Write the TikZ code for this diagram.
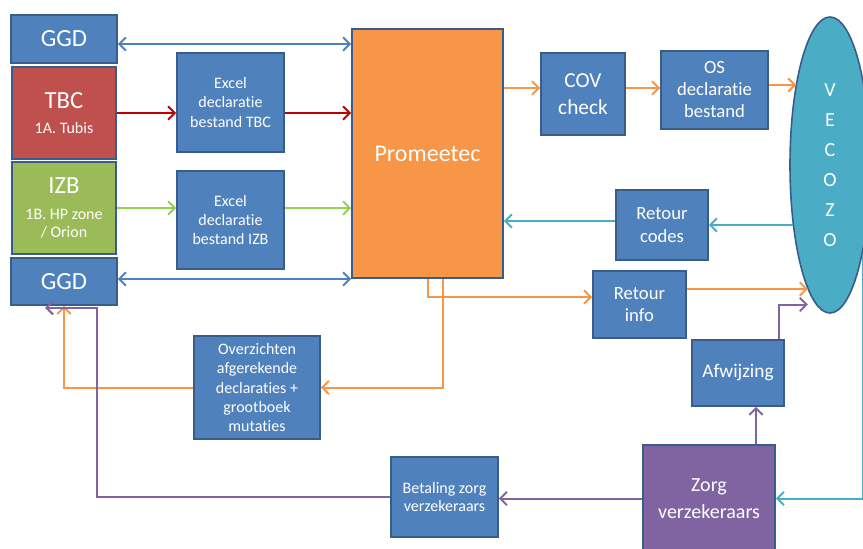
\documentclass[tikz,border=0pt]{standalone}
\usepackage{fontspec}
\setmainfont{Carlito}[Ligatures=NoCommon]
\usetikzlibrary{arrows.meta,shapes.geometric}
\definecolor{boxblue}{HTML}{4F81BD}
\definecolor{edgeblue}{HTML}{385D8A}
\definecolor{tbcred}{HTML}{C0504D}
\definecolor{izbgreen}{HTML}{9BBB59}
\definecolor{promorange}{HTML}{F79646}
\definecolor{zorgpurple}{HTML}{8064A2}
\definecolor{vecocyan}{HTML}{4BACC6}
\definecolor{arrred}{HTML}{C00000}
\definecolor{arrgreen}{HTML}{92D050}
\begin{document}
\begin{tikzpicture}[x=0.75pt,y=-0.75pt,
  box/.style={draw=edgeblue, line width=1.2pt, fill=boxblue, text=white, align=center, inner sep=0pt},
  place/.style n args={4}{at={({(#1+#3)/2},{(#2+#4)/2})}, minimum width={(#3-#1)*0.75pt}, minimum height={(#4-#2)*0.75pt}},
  conn/.style={line width=1.5pt, -{Straight Barb[length=5pt,width=10pt]}},
  dconn/.style={line width=1.5pt, {Straight Barb[length=5pt,width=10pt]}-{Straight Barb[length=5pt,width=10pt]}},
  big/.style={font=\fontsize{18.5}{22}\selectfont},
  mid/.style={font=\fontsize{16}{20}\selectfont},
  med/.style={font=\fontsize{14}{17}\selectfont},
  small/.style={font=\fontsize{12}{14.3}\selectfont}
]
\useasboundingbox (0,0) rectangle (863,549);

% left column
\node[box, big, place={11}{15}{117}{63}] (ggd1) {GGD};
\node[box, fill=tbcred, font=\fontsize{12}{14}\selectfont, place={12}{67}{116}{159}] (tbc) {{\fontsize{18.5}{22}\selectfont TBC}\\[4.5pt]1A. Tubis};
\node[box, fill=izbgreen, font=\fontsize{12}{13.5}\selectfont, place={12}{162}{116}{254}] (izb) {{\fontsize{18.5}{22}\selectfont IZB}\\[5.5pt]1B. HP zone\\/ Orion};
\node[box, big, place={11}{258}{117}{305}] (ggd2) {GGD};

% excel boxes
\node[box, small, place={177}{53}{284}{152}] (ex1) {Excel\\declaratie\\bestand TBC};
\node[box, small, place={177}{171}{284}{269}] (ex2) {Excel\\declaratie\\bestand IZB};

% Promeetec
\node[box, font=\fontsize{18}{22}\selectfont, fill=promorange, place={352}{29}{503}{278}] (prom) {Promeetec};

% top right
\node[box, mid, place={541}{53}{625}{135}] (cov) {COV\\check};
\node[box, font=\fontsize{14}{16.5}\selectfont, place={661}{51}{768}{129}] (os) {OS\\declaratie\\bestand};
\node[draw=edgeblue, line width=1.2pt, fill=vecocyan, ellipse, minimum width=60pt, minimum height=222pt,
      inner sep=0pt, text=white, align=center, font=\fontsize{15}{22.5}\selectfont] (vec) at (830,165) {V\\E\\C\\O\\Z\\O};

\node[box, med, place={616}{190}{708}{260}] (rcodes) {Retour\\codes};
\node[box, med, place={593}{271}{686}{338}] (rinfo) {Retour\\info};
\node[box, font=\fontsize{14.5}{17}\selectfont, place={692}{340}{784}{406}] (afw) {Afwijzing};
\node[box, font=\fontsize{15}{20}\selectfont, fill=zorgpurple, place={643}{445}{775}{552}] (zorg) {Zorg\\verzekeraars};
\node[box, font=\fontsize{12}{13.5}\selectfont, place={391}{457}{498}{537}] (bet) {Betaling zorg\\verzekeraars};
\node[box, small, place={194}{336}{320}{439}] (ovz) {Overzichten\\afgerekende\\declaraties +\\grootboek\\mutaties};

% blue double arrows
\draw[dconn, boxblue] ([yshift=-3.75pt]ggd1.east) -- ([yshift=-3.75pt]ggd1.east -| prom.west);
\draw[dconn, boxblue] ([yshift=1.9pt]ggd2.east) -- ([yshift=1.9pt]ggd2.east -| prom.west);

% red / green
\draw[conn, arrred] (tbc.east) -- (tbc.east -| ex1.west);
\draw[conn, arrred] (tbc.east -| ex1.east) -- (tbc.east -| prom.west);
\draw[conn, arrgreen] (izb.east) -- (izb.east -| ex2.west);
\draw[conn, arrgreen] (izb.east -| ex2.east) -- (izb.east -| prom.west);

% orange top chain
\draw[conn, promorange] ([yshift=4.5pt]prom.east |- cov.west) -- ([yshift=4.5pt]cov.west);
\draw[conn, promorange] ([yshift=4.5pt]cov.east) -- ([yshift=4.5pt]cov.east -| os.west);
\draw[conn, promorange] ([yshift=3.75pt]os.east) -- ([yshift=3.75pt]os.east -| vec.112);

% cyan
\draw[conn, vecocyan] (rcodes.east -| vec.239) -- (rcodes.east);
\draw[conn, vecocyan] ([yshift=3pt]rcodes.west) -- ([yshift=3pt]rcodes.west -| prom.east);
\draw[conn, vecocyan] (vec.-70) |- (zorg.east);

% orange lower
\draw[conn, promorange] (prom.south) |- ([yshift=5.6pt]rinfo.west);
\draw[conn, promorange] ([xshift=11.6pt]prom.south) |- (ovz.east);
\draw[conn, promorange] (ovz.west) -| (ggd2.south);
\draw[conn, promorange] ([yshift=11.6pt]rinfo.east) -- ([yshift=11.6pt]rinfo.east -| vec.260);

% purple
\draw[conn, zorgpurple] ([xshift=35.25pt]zorg.north) -- ([xshift=35.25pt]zorg.north |- afw.south);
\draw[conn, zorgpurple] ([xshift=30.75pt]afw.north) |- (rinfo.east -| vec.260);
\draw[conn, zorgpurple] (zorg.west) -- (zorg.west -| bet.east);
\draw[conn, zorgpurple] (bet.west) -| ([xshift=24.75pt,yshift=-1.5pt]ggd2.south) -- ([xshift=-14.25pt,yshift=-1.5pt]ggd2.south);
\end{tikzpicture}
\end{document}
